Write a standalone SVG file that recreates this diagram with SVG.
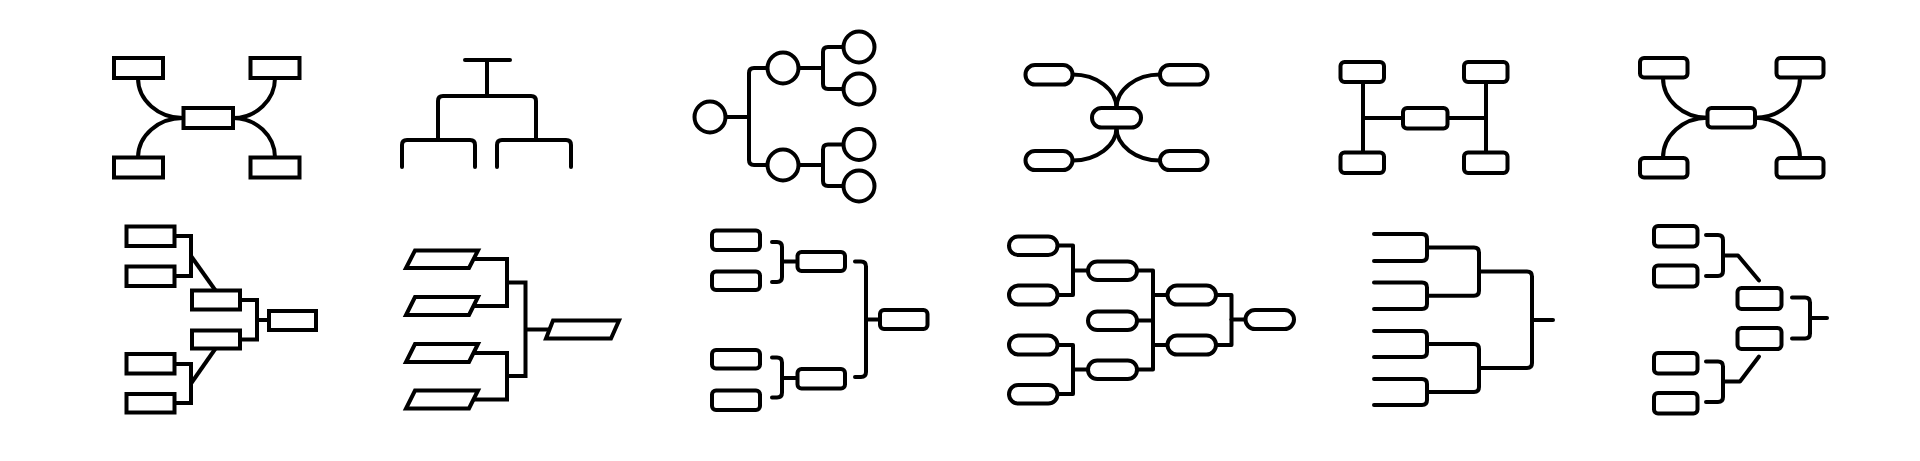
<svg xmlns="http://www.w3.org/2000/svg" width="1920" height="461" viewBox="0 0 1920 461">
<style>
.n{fill:#fff;stroke:#000;stroke-width:4;stroke-linejoin:miter}
.r{fill:#fff;stroke:#000;stroke-width:4}
.c{fill:none;stroke:#000;stroke-width:4;stroke-linecap:round;stroke-linejoin:round}
.m{fill:none;stroke:#000;stroke-width:4;stroke-linecap:butt;stroke-linejoin:miter}
</style>
<rect width="1920" height="461" fill="#fff"/>

<g id="icon1">
<g id="icon1-connectors">
<path class="c" d="M138,78 A45,40 0 0 0 183.5,118"/>
<path class="c" d="M138,157.5 A45,39.5 0 0 1 183.5,118"/>
<path class="c" d="M275,78 A42,40 0 0 1 233,118"/>
<path class="c" d="M275,157.5 A42,39.5 0 0 0 233,118"/>
</g>
<g id="icon1-n1"><rect class="n" x="114" y="58" width="49" height="20"/></g>
<g id="icon1-n2"><rect class="n" x="250.5" y="58" width="49" height="20"/></g>
<g id="icon1-n3"><rect class="n" x="183.5" y="108" width="49.5" height="20"/></g>
<g id="icon1-n4"><rect class="n" x="114" y="157.5" width="49" height="20"/></g>
<g id="icon1-n5"><rect class="n" x="250.5" y="157.5" width="49" height="20"/></g>
</g>

<g id="icon2">
<g id="icon2-connectors">
<path class="c" d="M465,60 H510"/>
<path class="c" d="M487,60 V96"/>
<path class="c" d="M438,139 V101 Q438,96 443,96 H531 Q536,96 536,101 V139"/>
<path class="c" d="M402,167 V145 Q402,140 407,140 H470 Q475,140 475,145 V167"/>
<path class="c" d="M497,167 V145 Q497,140 502,140 H566 Q571,140 571,145 V167"/>
</g>
</g>

<g id="icon3">
<g id="icon3-connectors">
<path class="c" d="M725.5,117 H749"/>
<path class="c" d="M767.5,68 H754 Q749,68 749,73 V160 Q749,165 754,165 H767.5"/>
<path class="c" d="M798.5,68 H823"/>
<path class="c" d="M843.5,47 H828 Q823,47 823,52 V84 Q823,89 828,89 H843.5"/>
<path class="c" d="M798.5,165 H823"/>
<path class="c" d="M843.5,144.5 H828 Q823,144.5 823,149.5 V181 Q823,186 828,186 H843.5"/>
</g>
<g id="icon3-n1"><circle class="r" cx="710" cy="117" r="15.5"/></g>
<g id="icon3-n2"><circle class="r" cx="783" cy="68" r="15.5"/></g>
<g id="icon3-n3"><circle class="r" cx="783" cy="165" r="15.5"/></g>
<g id="icon3-n4"><circle class="r" cx="859" cy="47" r="15.5"/></g>
<g id="icon3-n5"><circle class="r" cx="859" cy="89" r="15.5"/></g>
<g id="icon3-n6"><circle class="r" cx="859" cy="144.5" r="15.5"/></g>
<g id="icon3-n7"><circle class="r" cx="859" cy="186" r="15.5"/></g>
</g>

<g id="icon4">
<g id="icon4-connectors">
<path class="c" d="M1072.5,74.5 A44,33.5 0 0 1 1116.5,108"/>
<path class="c" d="M1160,74.5 A43.5,33.5 0 0 0 1116.5,108"/>
<path class="c" d="M1072.5,160.5 A44,33 0 0 0 1116.5,127.5"/>
<path class="c" d="M1160,160.5 A43.5,33 0 0 1 1116.5,127.5"/>
</g>
<g id="icon4-n1"><rect class="r" x="1025.5" y="65" width="47" height="19.5" rx="9.5"/></g>
<g id="icon4-n2"><rect class="r" x="1160" y="65" width="47.5" height="19.5" rx="9.5"/></g>
<g id="icon4-n3"><rect class="r" x="1092" y="108" width="49" height="19.5" rx="9.5"/></g>
<g id="icon4-n4"><rect class="r" x="1025.5" y="151" width="47" height="19" rx="9.5"/></g>
<g id="icon4-n5"><rect class="r" x="1160" y="151" width="47.5" height="19" rx="9.5"/></g>
</g>

<g id="icon5">
<g id="icon5-connectors">
<path class="c" d="M1363,82 V152.5"/>
<path class="c" d="M1486,82 V152.5"/>
<path class="c" d="M1363,118 H1403"/>
<path class="c" d="M1447.5,118 H1486"/>
</g>
<g id="icon5-n1"><rect class="r" x="1340.5" y="62" width="43.5" height="20" rx="4"/></g>
<g id="icon5-n2"><rect class="r" x="1464" y="62" width="43.5" height="20" rx="4"/></g>
<g id="icon5-n3"><rect class="r" x="1403" y="108" width="44.5" height="20.5" rx="4"/></g>
<g id="icon5-n4"><rect class="r" x="1340.5" y="152.5" width="43.5" height="20.5" rx="4"/></g>
<g id="icon5-n5"><rect class="r" x="1464" y="152.5" width="43.5" height="20.5" rx="4"/></g>
</g>

<g id="icon6">
<g id="icon6-connectors">
<path class="c" d="M1663,77.5 A44.5,40 0 0 0 1707.5,117.75"/>
<path class="c" d="M1663,158 A44.5,40 0 0 1 1707.5,117.75"/>
<path class="c" d="M1800,77.5 A45,40 0 0 1 1755,117.75"/>
<path class="c" d="M1800,158 A45,40 0 0 0 1755,117.75"/>
</g>
<g id="icon6-n1"><rect class="r" x="1640" y="58" width="47.5" height="19.5" rx="4"/></g>
<g id="icon6-n2"><rect class="r" x="1776.5" y="58" width="47" height="19.5" rx="4"/></g>
<g id="icon6-n3"><rect class="r" x="1707.5" y="108" width="47.5" height="19.5" rx="4"/></g>
<g id="icon6-n4"><rect class="r" x="1640" y="158" width="47.5" height="19.5" rx="4"/></g>
<g id="icon6-n5"><rect class="r" x="1776.5" y="158" width="47" height="19.5" rx="4"/></g>
</g>

<g id="icon7">
<g id="icon7-connectors">
<path class="m" d="M174.5,236 H191 V276 H174.5"/>
<path class="m" d="M191,256 L215.5,290.5"/>
<path class="m" d="M240,300 H257 V339.5 H240"/>
<path class="m" d="M257,320 H269"/>
<path class="m" d="M174.5,364 H191 V403 H174.5"/>
<path class="m" d="M191,383.5 L215.5,348.5"/>
</g>
<g id="icon7-n1"><rect class="n" x="126.5" y="226.5" width="48" height="19.5"/></g>
<g id="icon7-n2"><rect class="n" x="126.5" y="266.5" width="48" height="19.5"/></g>
<g id="icon7-n3"><rect class="n" x="192" y="290.5" width="48" height="19"/></g>
<g id="icon7-n4"><rect class="n" x="192" y="330.5" width="48" height="18"/></g>
<g id="icon7-n5"><rect class="n" x="269" y="311" width="47" height="19"/></g>
<g id="icon7-n6"><rect class="n" x="126.5" y="354" width="48" height="19.5"/></g>
<g id="icon7-n7"><rect class="n" x="126.5" y="394" width="48" height="18.5"/></g>
</g>

<g id="icon8">
<g id="icon8-connectors">
<path class="m" d="M474,259 H507 V306 H474"/>
<path class="m" d="M507,282.5 H525.5 V376 H507"/>
<path class="m" d="M474,353 H507 V399.5 H474"/>
<path class="m" d="M525.5,329.5 H549.5"/>
</g>
<g id="icon8-n1"><path class="n" d="M415,250.5 H478 L469,268 H406 Z"/></g>
<g id="icon8-n2"><path class="n" d="M415,297 H478 L469,315 H406 Z"/></g>
<g id="icon8-n3"><path class="n" d="M415,344 H478 L469,362 H406 Z"/></g>
<g id="icon8-n4"><path class="n" d="M415,390.5 H478 L469,408.5 H406 Z"/></g>
<g id="icon8-n5"><path class="n" d="M553,320.5 H619 L611,338.5 H546 Z"/></g>
</g>

<g id="icon9">
<g id="icon9-connectors">
<path class="c" d="M772,242 H777 Q782,242 782,247 V277 Q782,282 777,282 H772"/>
<path class="c" d="M782,261.5 H797.5"/>
<path class="c" d="M772,357.5 H777 Q782,357.5 782,362.5 V392.5 Q782,397.5 777,397.5 H772"/>
<path class="c" d="M782,378 H797.5"/>
<path class="c" d="M855,261.5 H861 Q866,261.5 866,266.5 V372 Q866,377 861,377 H855"/>
<path class="c" d="M866,319.5 H880"/>
</g>
<g id="icon9-n1"><rect class="r" x="712" y="230.5" width="48" height="19.5" rx="4"/></g>
<g id="icon9-n2"><rect class="r" x="712" y="271.5" width="48" height="18.5" rx="4"/></g>
<g id="icon9-n3"><rect class="r" x="797.5" y="252" width="47.5" height="19" rx="4"/></g>
<g id="icon9-n4"><rect class="r" x="880" y="310" width="47.5" height="19" rx="4"/></g>
<g id="icon9-n5"><rect class="r" x="712" y="350" width="48" height="18.5" rx="4"/></g>
<g id="icon9-n6"><rect class="r" x="712" y="390.5" width="48" height="19.5" rx="4"/></g>
<g id="icon9-n7"><rect class="r" x="797.5" y="369" width="47.5" height="19.5" rx="4"/></g>
</g>

<g id="icon10">
<g id="icon10-connectors">
<path class="c" d="M1057.5,245.5 H1073 V295 H1057.5"/>
<path class="c" d="M1073,270.5 H1088"/>
<path class="c" d="M1057.5,345 H1073 V394 H1057.5"/>
<path class="c" d="M1073,369.5 H1088"/>
<path class="c" d="M1137,270.5 H1153 V369.5 H1137"/>
<path class="c" d="M1137,320.5 H1153"/>
<path class="c" d="M1153,295 H1167.5"/>
<path class="c" d="M1153,345 H1167.5"/>
<path class="c" d="M1216,295 H1231.5 V345 H1216"/>
<path class="c" d="M1231.5,319.5 H1245.5"/>
</g>
<g id="icon10-n1"><rect class="r" x="1009" y="236.5" width="48.5" height="18.5" rx="9.25"/></g>
<g id="icon10-n2"><rect class="r" x="1009" y="285.5" width="48.5" height="19" rx="9.5"/></g>
<g id="icon10-n3"><rect class="r" x="1009" y="335.5" width="48.5" height="19" rx="9.5"/></g>
<g id="icon10-n4"><rect class="r" x="1009" y="385" width="48.5" height="18.5" rx="9.25"/></g>
<g id="icon10-n5"><rect class="r" x="1088" y="261.5" width="49" height="18.5" rx="9.25"/></g>
<g id="icon10-n6"><rect class="r" x="1088" y="311.5" width="49" height="18.5" rx="9.25"/></g>
<g id="icon10-n7"><rect class="r" x="1088" y="360.5" width="49" height="18.5" rx="9.25"/></g>
<g id="icon10-n8"><rect class="r" x="1167.5" y="285.5" width="48.5" height="19" rx="9.5"/></g>
<g id="icon10-n9"><rect class="r" x="1167.5" y="335.5" width="48.5" height="19" rx="9.5"/></g>
<g id="icon10-n10"><rect class="r" x="1245.5" y="310" width="48.5" height="19" rx="9.5"/></g>
</g>

<g id="icon11">
<g id="icon11-connectors">
<path class="c" d="M1374,234 H1422 Q1427,234 1427,239 V256 Q1427,261 1422,261 H1374"/>
<path class="c" d="M1374,282.5 H1422 Q1427,282.5 1427,287.5 V304 Q1427,309 1422,309 H1374"/>
<path class="c" d="M1374,331 H1422 Q1427,331 1427,336 V352 Q1427,357 1422,357 H1374"/>
<path class="c" d="M1374,379 H1422 Q1427,379 1427,384 V400 Q1427,405 1422,405 H1374"/>
<path class="c" d="M1427,247.5 H1474 Q1479,247.5 1479,252.5 V290.75 Q1479,295.75 1474,295.75 H1427"/>
<path class="c" d="M1427,344 H1474 Q1479,344 1479,349 V387 Q1479,392 1474,392 H1427"/>
<path class="c" d="M1479,271.5 H1527 Q1532,271.5 1532,276.5 V363 Q1532,368 1527,368 H1479"/>
<path class="c" d="M1532,320 H1553"/>
</g>
</g>

<g id="icon12">
<g id="icon12-connectors">
<path class="c" d="M1706,235 H1718 Q1723,235 1723,240 V271 Q1723,276 1718,276 H1706"/>
<path class="c" d="M1723,255.5 H1738 L1759,280.5"/>
<path class="c" d="M1792,297.5 H1805 Q1810,297.5 1810,302.5 V333.5 Q1810,338.5 1805,338.5 H1792"/>
<path class="c" d="M1810,318 H1827"/>
<path class="c" d="M1706,361.5 H1718 Q1723,361.5 1723,366.5 V397 Q1723,402 1718,402 H1706"/>
<path class="c" d="M1723,381.5 H1740 L1759,356.5"/>
</g>
<g id="icon12-n1"><rect class="r" x="1654" y="226" width="43.5" height="20.5" rx="4"/></g>
<g id="icon12-n2"><rect class="r" x="1654" y="265.5" width="43.5" height="21" rx="4"/></g>
<g id="icon12-n3"><rect class="r" x="1737.5" y="288" width="44" height="21" rx="4"/></g>
<g id="icon12-n4"><rect class="r" x="1737.5" y="328" width="44" height="21" rx="4"/></g>
<g id="icon12-n5"><rect class="r" x="1654" y="353" width="43.5" height="20.5" rx="4"/></g>
<g id="icon12-n6"><rect class="r" x="1654" y="393" width="43.5" height="20.5" rx="4"/></g>
</g>
</svg>
